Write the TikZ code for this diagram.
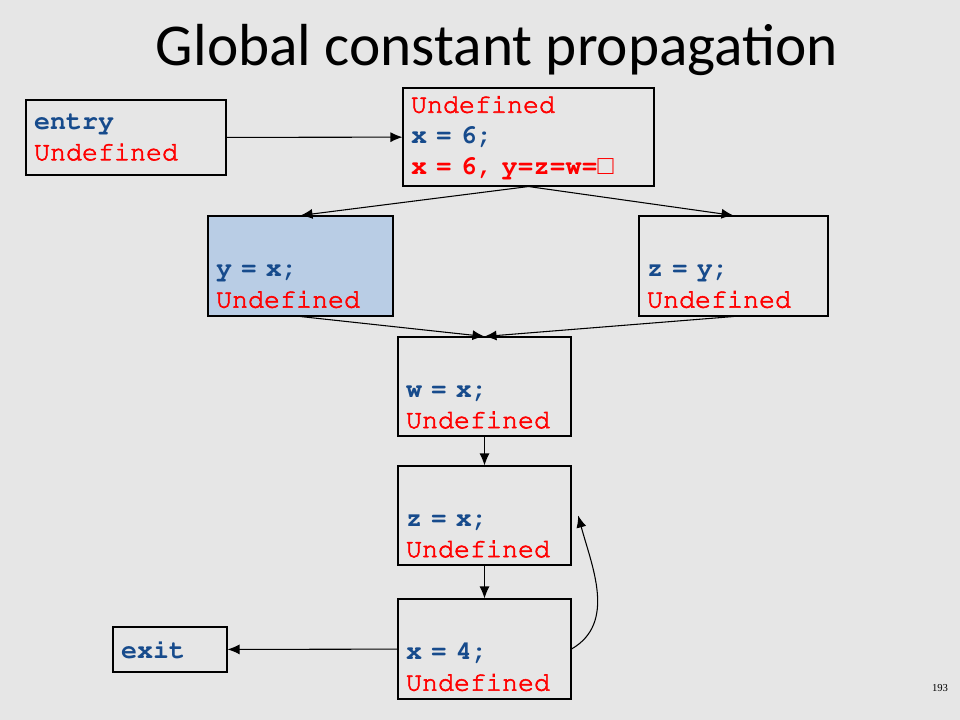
\documentclass[tikz,border=0pt]{standalone}
\usepackage[T1]{fontenc}
\usepackage{fontspec}
\setmainfont{Liberation Serif}
\newfontfamily\boxfont{Liberation Mono}
\newfontfamily\titlefont{Carlito}
\newcommand{\codefont}{\usefont{T1}{pcr}{m}{n}}
\usetikzlibrary{arrows.meta}
\tikzset{>={Latex[length=9pt,width=7.5pt]}}
\definecolor{bg}{HTML}{E6E6E6}
\definecolor{codeblue}{HTML}{174B8C}
\definecolor{codered}{HTML}{FF0000}
\definecolor{hilite}{HTML}{B9CDE5}
\newcommand{\stmt}[1]{\textcolor{codeblue}{\bfseries #1}}
\newcommand{\undef}{\textcolor{codered}{\special{pdf:literal direct 2 Tr 0.45 w}Undefined\special{pdf:literal direct 0 Tr}}}
\tikzset{block/.style = {shape=rectangle, draw, line width=0.8pt, align=left, inner xsep=6pt,
inner ysep=2pt, font=\codefont\fontsize{20}{23.25}\selectfont}}

\begin{document}
\begin{tikzpicture}[x=0.75pt,y=-0.75pt]
                \fill[bg] (0,0) rectangle (960,720);
                \useasboundingbox (0,0) rectangle (960,720);

                \node[font=\titlefont\fontsize{44.5}{50}\selectfont] (title) at (497,50) {Global constant propagation};

                \node[block, text width=138pt, minimum height=56.25pt] (entry) at (126,137.5)
                    {\stmt{entry}\\\undef};
                \node[block, text width=176.25pt, minimum height=73.5pt] (top) at (528.5,137)
                    {\undef\\\stmt{x = 6;}\\\textcolor{codered}{\bfseries x = 6, y=z=w={\boxfont\mdseries □}}};
                \node[block, fill=hilite, text width=126.75pt, minimum height=75pt] (yx) at (300.5,266)
                    {\strut\\\stmt{y = x;}\\\undef};
                \node[block, text width=129.75pt, minimum height=75pt] (zy) at (733.5,266)
                    {\strut\\\stmt{z = y;}\\\undef};
                \node[block, text width=117.75pt, minimum height=74.25pt] (wx) at (484.5,386.5)
                    {\strut\\\stmt{w = x;}\\\undef};
                \node[block, text width=117.75pt, minimum height=74.25pt] (zx) at (484.5,515.5)
                    {\strut\\\stmt{z = x;}\\\undef};
                \node[block, text width=117.75pt, minimum height=75pt] (xf) at (484.5,649)
                    {\strut\\\stmt{x = 4;}\\\undef};
                \node[block, text width=73.5pt, minimum height=33.75pt] (exit) at (170,649.5)
                    {\stmt{exit}};

                \node[font=\fontsize{8}{9}\selectfont] (page) at (940,688) {193};

                \draw[->, line width=0.8pt] (entry) -- (top);
                \draw[->, line width=0.8pt] (top.south) -- (yx.north);
                \draw[->, line width=0.8pt] (top.south) -- (zy.north);
                \draw[->, line width=0.8pt] (yx.south) -- (wx.north);
                \draw[->, line width=0.8pt] (zy.south) -- (wx.north);
                \draw[->, line width=0.8pt] (wx) -- (zx);
                \draw[->, line width=0.8pt] (zx) -- (xf);
                \draw[->, line width=0.8pt] (xf.east) to[out=30, in=-75] ([xshift=5pt]zx.east);
                \draw[->, line width=0.8pt] (xf) -- (exit);
            \end{tikzpicture}
\end{document}
